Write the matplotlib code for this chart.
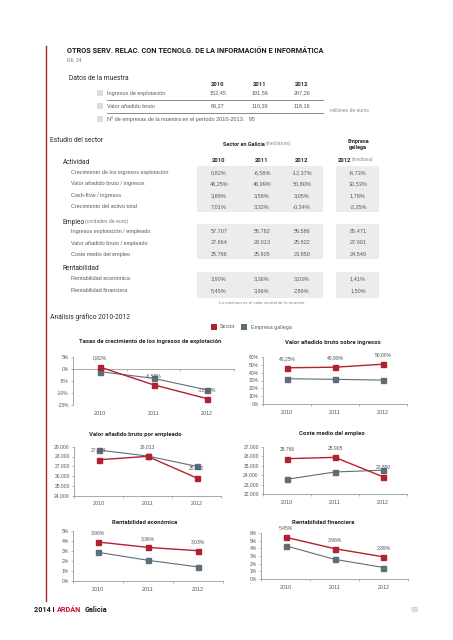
import matplotlib
matplotlib.use('Agg')
import matplotlib.pyplot as plt
from matplotlib.patches import Rectangle
from matplotlib.ticker import FuncFormatter

W, H = 453, 640

# colours
RED = '#b3202f'
GREY = '#5e6e79'
TXT = '#5a5a5a'
DARK = '#2b2b2b'
BOX = '#ececec'

# ---- data ----
years = ['2010', '2011', '2012']

muestra_ingresos = [152.45, 191.56, 207.26]
muestra_vab = [89.27, 110.39, 118.16]
n_empresas = 95

actividad_labels = ['Crecimiento de los ingresos explotación', 'Valor añadido bruto / ingresos',
                    'Cash-flow / ingresos', 'Crecimiento del activo total']
actividad_sector = [[0.82, -6.58, -12.37], [46.25, 46.99, 50.80], [3.88, 3.58, 3.05], [7.01, 3.32, -0.34]]
actividad_gallega = [-8.73, 30.53, 1.78, -2.35]

empleo_labels = ['Ingresos explotación / empleado', 'Valor añadido bruto / empleado', 'Coste medio del empleo']
empleo_sector = [[57707, 55782, 55586], [27664, 28013, 25822], [25766, 25905, 23850]]
empleo_gallega = [85471, 27001, 24549]

rent_labels = ['Rentabilidad económica', 'Rentabilidad financiera']
rent_sector = [[3.90, 3.36, 3.03], [5.45, 3.96, 2.89]]
rent_gallega = [1.41, 1.50]

# chart series (sector / empresa gallega)
crec_sector = [0.82, -6.58, -12.37]
crec_gallega = [-1.1, -3.9, -8.73]
vabing_sector = [46.25, 46.99, 50.80]
vabing_gallega = [32.3, 31.5, 30.53]
vabemp_sector = [27664, 28013, 25822]
vabemp_gallega = [28660, 28050, 27001]
coste_sector = [25766, 25905, 23850]
coste_gallega = [23590, 24360, 24549]
reco_sector = [3.90, 3.36, 3.03]
reco_gallega = [2.87, 2.07, 1.41]
rfin_sector = [5.45, 3.96, 2.89]
rfin_gallega = [4.34, 2.57, 1.50]


def pct(v):
    return '{:.2f}%'.format(v).replace('.', ',')


def miles(v):
    return '{:,.0f}'.format(v).replace(',', '.')


def dec(v):
    return '{:.2f}'.format(v).replace('.', ',')


fig = plt.figure(figsize=(W / 100, H / 100), dpi=100)
fig.patch.set_facecolor('white')


def txt(x, y, s, **kw):
    kw.setdefault('va', 'center')
    kw.setdefault('fontsize', 4.0)
    kw.setdefault('color', TXT)
    kw.setdefault('family', 'Liberation Sans')
    fig.text(x / W, 1 - y / H, s, **kw)


def head(x, y, s, size=4.9, **kw):
    txt(x, y, s, fontsize=size, color=DARK, family='Roboto', **kw)


def bold(x, y, s, size=4.0, **kw):
    kw.setdefault('ha', 'center')
    txt(x, y, s, fontsize=size, color=DARK, family='Roboto', fontweight='bold', **kw)


def box(x0, y0, x1, y1, color=BOX):
    fig.patches.append(Rectangle((x0 / W, 1 - y1 / H), (x1 - x0) / W, (y1 - y0) / H,
                                 transform=fig.transFigure, facecolor=color, edgecolor='none', zorder=0))


def hline(x0, x1, y, color='#777777', lw=0.6):
    fig.add_artist(plt.Line2D([x0 / W, x1 / W], [1 - y / H, 1 - y / H], transform=fig.transFigure,
                              color=color, lw=lw))


# red margin line
fig.add_artist(plt.Line2D([46 / W, 46 / W], [1 - 46 / H, 1 - 601 / H], transform=fig.transFigure,
                          color='#a3262a', lw=1.0))

# header
txt(67, 51, 'OTROS SERV. RELAC. CON TECNOLG. DE LA INFORMACIÓN E INFORMÁTICA',
    fontsize=5.3, color='#1a1a1a', family='Roboto', fontweight='bold')
txt(67, 61, 'Rk: 24', fontsize=3.6, color='#777777')

# datos de la muestra
head(69, 79, 'Datos de la muestra')
col_m = [218, 260, 302]
for x, yr in zip(col_m, years):
    bold(x, 84, yr, size=4.2)
rows_m = [('Ingresos de explotación', muestra_ingresos, 93), ('Valor añadido bruto', muestra_vab, 106)]
for lab, vals, y in rows_m:
    box(97, y - 3, 103, y + 3, color='#dcdcdc')
    txt(107, y, lab)
    for x, v in zip(col_m, vals):
        txt(x, y, dec(v), ha='center')
hline(107, 323, 99.5)
hline(107, 323, 112.5)
box(97, 116, 103, 122, color='#dcdcdc')
txt(107, 119, 'Nº de empresas de la muestra en el período 2010-2013:   {}'.format(n_empresas))
txt(330, 110, 'millones de euros', fontsize=3.5, color='#888888')

# estudio del sector
head(50, 140, 'Estudio del sector')
bold(265, 144, 'Sector en Galicia', ha='right')
txt(266, 144, '(medianas)', fontsize=3.6, color='#888888')
bold(358, 142, 'Empresa')
bold(358, 148, 'gallega')

col_t = [219, 262, 302]
gal_x = 358
for x, yr in zip(col_t, years):
    bold(x, 160, yr, size=4.2)
bold(351, 160, '2012', size=4.2, ha='right')
txt(352, 160, '(mediana)', fontsize=3.4, color='#888888')


def section(title, sub, ytitle, labels, sec, gal, fmt, y0, box_top, box_bot, step=11.5):
    head(63, ytitle, title, size=4.8)
    if sub:
        txt(85, ytitle, sub, fontsize=3.6, color='#777777')
    box(197, box_top, 323, box_bot)
    box(336, box_top, 379, box_bot)
    for i, lab in enumerate(labels):
        y = y0 + i * step
        txt(71, y, lab)
        for x, v in zip(col_t, sec[i]):
            txt(x, y, fmt(v), ha='center')
        txt(gal_x, y, fmt(gal[i]), ha='center')


section('Actividad', None, 163, actividad_labels, actividad_sector, actividad_gallega, pct, 172.5, 166, 212)
section('Empleo', '(unidades de euro)', 222, empleo_labels, empleo_sector, empleo_gallega, miles, 231.5, 224, 259)
section('Rentabilidad', None, 269, rent_labels, rent_sector, rent_gallega, pct, 279, 272, 298)
txt(262, 303, 'La mediana es el valor central de la muestra', ha='center', fontsize=3.2, color='#888888')

# analisis grafico
head(50, 317, 'Análisis gráfico 2010-2012')
box(211, 324, 217, 330, color=RED)
txt(220, 327, 'Sector', fontsize=3.9)
box(241, 324, 247, 330, color=GREY)
txt(251, 327, 'Empresa gallega', fontsize=3.9)


def chart(title, tx, ty, left, right, ytop, ybot, lims, ticks, sec, gal, fmt_tick, fmt_lab, zero_axis=False):
    ax = fig.add_axes([left / W, 1 - ybot / H, (right - left) / W, (ybot - ytop) / H])
    x = range(len(years))
    ax.plot(x, gal, color=GREY, lw=0.8, marker='s', ms=3.6, zorder=3)
    ax.plot(x, sec, color=RED, lw=1.0, marker='s', ms=3.6, zorder=4)
    for xi, v in zip(x, sec):
        ax.annotate(fmt_lab(v), (xi, v), xytext=(0, 6.5), textcoords='offset points', ha='center',
                    va='center', fontsize=3.6, color='#555555', family='Liberation Sans', zorder=5)
    ax.set_xlim(-0.5, len(years) - 0.5)
    ax.set_ylim(*lims)
    ax.set_yticks(ticks)
    ax.yaxis.set_major_formatter(FuncFormatter(lambda v, p: fmt_tick(v)))
    ax.set_xticks(list(x))
    ax.set_xticklabels(years)
    ax.set_xticks([-0.5, 0.5, 1.5, 2.5], minor=True)
    for s in ['top', 'right']:
        ax.spines[s].set_visible(False)
    for s in ['left', 'bottom']:
        ax.spines[s].set_color('#9a9a9a')
        ax.spines[s].set_linewidth(0.6)
    ax.tick_params(axis='y', length=1.5, width=0.5, color='#9a9a9a', labelsize=3.6, labelcolor='#555555', pad=1.5)
    ax.tick_params(axis='x', which='minor', length=1.5, width=0.5, color='#9a9a9a')
    pad = 4.0
    if zero_axis:
        ax.spines['bottom'].set_position(('data', 0))
        pad = (ybot - ytop) * (0 - lims[0]) / (lims[1] - lims[0]) * 0.72 + 4.0
    ax.tick_params(axis='x', which='major', length=0, labelsize=3.9, labelcolor='#555555', pad=pad)
    for lab in ax.get_xticklabels() + ax.get_yticklabels():
        lab.set_family('Liberation Sans')
    ax.patch.set_alpha(0)
    fig.text(tx / W, 1 - ty / H, title, fontsize=4.3, color=DARK, family='Roboto', fontweight='bold',
             ha='center', va='center')
    return ax


def ptick(v):
    return '{:.0f}%'.format(v)


def mtick(v):
    return miles(v)


chart('Tasas de crecimiento de los ingresos de explotación', 150, 342, 73, 234, 357, 405,
      (-15, 5), [-15, -10, -5, 0, 5], crec_sector, crec_gallega, ptick, pct, zero_axis=True)
chart('Valor añadido bruto sobre ingresos', 333, 342, 263, 407, 357, 404,
      (0, 60), [0, 10, 20, 30, 40, 50, 60], vabing_sector, vabing_gallega, ptick, pct)
chart('Valor añadido bruto por empleado', 135, 434, 74, 221, 446.7, 495.7,
      (24000, 29000), [24000, 25000, 26000, 27000, 28000, 29000], vabemp_sector, vabemp_gallega, mtick, miles)
chart('Coste medio del empleo', 332, 434, 263, 407, 447, 494.3,
      (22000, 27000), [22000, 23000, 24000, 25000, 26000, 27000], coste_sector, coste_gallega, mtick, miles)
chart('Rentabilidad económica', 145, 523, 73, 223, 531, 581,
      (0, 5), [0, 1, 2, 3, 4, 5], reco_sector, reco_gallega, ptick, pct)
chart('Rentabilidad financiera', 323, 522, 261, 408, 533, 579,
      (0, 6), [0, 1, 2, 3, 4, 5, 6], rfin_sector, rfin_gallega, ptick, pct)

# footer
fig.text(34 / W, 1 - 610 / H, '2014 I', fontsize=5.2, color='#1a1a1a', family='Roboto',
         fontweight='bold', va='center')
fig.text(57 / W, 1 - 610 / H, 'ARDÁN', fontsize=5.2, color='#c8102e', family='Roboto',
         fontweight='bold', va='center')
fig.text(85 / W, 1 - 610 / H, 'Galicia', fontsize=5.2, color='#1a1a1a', family='Roboto',
         fontweight='bold', va='center')
txt(415, 610, '99', fontsize=5.0, color='#aaaaaa', ha='center')

fig.savefig('out.png', dpi=100, facecolor='white')
